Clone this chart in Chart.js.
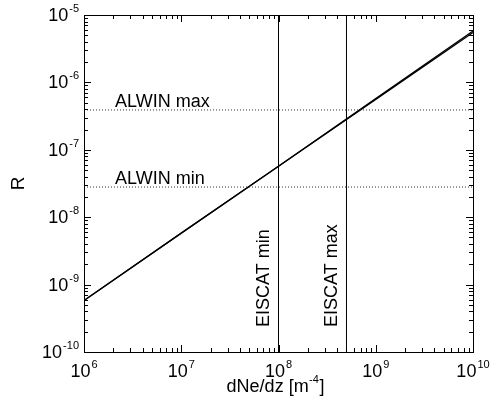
<!DOCTYPE html>
<html>
<head>
<meta charset="utf-8">
<script src="https://cdn.jsdelivr.net/npm/chart.js@4"></script>
<style>
  html, body { margin: 0; padding: 0; background: #fff; }
</style>
</head>
<body>
<canvas id="rChart" width="492" height="403"></canvas>
<script>
// R as a function of dNe/dz, with the ALWIN and EISCAT ranges
const density = [1e6, 1e7, 1e8, 1e9, 1e10];
const ratioA = [5.8e-10, 5.8e-9, 5.7e-8, 5.6e-7, 5.5e-6];
const ratioB = [5.8e-10, 5.8e-9, 5.7e-8, 5.75e-7, 5.8e-6];
const alwinLevels = [2.8e-8, 3.9e-7];
const alwinLabels = ['ALWIN min', 'ALWIN max'];
const eiscatLevels = [1e8, 5e8];
const eiscatLabels = ['EISCAT min', 'EISCAT max'];
const xDecades = [6, 7, 8, 9, 10];
const yDecades = [-10, -9, -8, -7, -6, -5];

const FONT = '"Liberation Sans", Arial, Helvetica, sans-serif';
const xMin = 10 ** xDecades[0], xMax = 10 ** xDecades[xDecades.length - 1];
const yMin = 10 ** yDecades[0], yMax = 10 ** yDecades[yDecades.length - 1];

// "10" with a raised exponent; align is 'center' or 'right'
function powerText(ctx, base, exp, x, y, align) {
    ctx.font = '18px ' + FONT;
    const wb = ctx.measureText(base).width;
    ctx.font = '11px ' + FONT;
    const ws = ctx.measureText(exp).width;
    const x0 = align === 'center' ? x - (wb + ws + 1) / 2 : x - wb - ws - 1;
    ctx.textAlign = 'left';
    ctx.textBaseline = 'alphabetic';
    ctx.font = '18px ' + FONT;
    ctx.fillText(base, x0, y);
    ctx.font = '11px ' + FONT;
    ctx.fillText(exp, x0 + wb + 1, y - 9);
}

const framePlugin = {
    id: 'frame',
    afterDraw(chart) {
        const { ctx, chartArea: a, scales } = chart;
        const sx = scales.x, sy = scales.y;
        ctx.save();
        ctx.strokeStyle = '#000';
        ctx.fillStyle = '#000';
        ctx.lineWidth = 1;
        ctx.strokeRect(Math.round(a.left) + 0.5, Math.round(a.top) + 0.5,
            Math.round(a.right - a.left), Math.round(a.bottom - a.top));

        // inward ticks on all four sides
        ctx.beginPath();
        xDecades.forEach(d => {
            for (let k = 1; k <= 9; k++) {
                const v = k * 10 ** d;
                if (v > xMax * 1.0001) break;
                const px = Math.round(sx.getPixelForValue(v)) + 0.5;
                const len = k === 1 ? 7 : 4;
                ctx.moveTo(px, a.bottom); ctx.lineTo(px, a.bottom - len);
                ctx.moveTo(px, a.top); ctx.lineTo(px, a.top + len);
            }
        });
        yDecades.forEach(d => {
            for (let k = 1; k <= 9; k++) {
                const v = k * 10 ** d;
                if (v > yMax * 1.0001) break;
                const py = Math.round(sy.getPixelForValue(v)) + 0.5;
                const len = k === 1 ? 7 : 4;
                ctx.moveTo(a.left, py); ctx.lineTo(a.left + len, py);
                ctx.moveTo(a.right, py); ctx.lineTo(a.right - len, py);
            }
        });
        ctx.stroke();

        // tick labels
        xDecades.forEach(d => {
            powerText(ctx, '10', String(d), sx.getPixelForValue(10 ** d), a.bottom + 25, 'center');
        });
        yDecades.forEach(d => {
            powerText(ctx, '10', String(d), a.left - 5, sy.getPixelForValue(10 ** d) + 6, 'right');
        });

        // axis titles
        ctx.font = '18px ' + FONT;
        const t1 = 'dNe/dz [m', t2 = ']';
        const w1 = ctx.measureText(t1).width, w2 = ctx.measureText(t2).width;
        ctx.font = '11px ' + FONT;
        const we = ctx.measureText('-4').width;
        const tx = (a.left + a.right) / 2 - 3 - (w1 + we + w2 + 1) / 2;
        ctx.textAlign = 'left';
        ctx.font = '18px ' + FONT;
        ctx.fillText(t1, tx, a.bottom + 40);
        ctx.fillText(t2, tx + w1 + we + 1, a.bottom + 40);
        ctx.font = '11px ' + FONT;
        ctx.fillText('-4', tx + w1 + 0.5, a.bottom + 31);

        ctx.save();
        ctx.translate(24, (a.top + a.bottom) / 2);
        ctx.rotate(-Math.PI / 2);
        ctx.textAlign = 'center';
        ctx.font = '19px ' + FONT;
        ctx.fillText('R', 0, 0);
        ctx.restore();

        // range labels
        ctx.font = '18px ' + FONT;
        ctx.textAlign = 'left';
        alwinLevels.forEach((lvl, i) => {
            ctx.fillText(alwinLabels[i], a.left + 31, sy.getPixelForValue(lvl) - 3);
        });
        eiscatLevels.forEach((lvl, i) => {
            ctx.save();
            ctx.translate(sx.getPixelForValue(lvl) - 9.5, a.bottom - 25);
            ctx.rotate(-Math.PI / 2);
            ctx.fillText(eiscatLabels[i], 0, 0);
            ctx.restore();
        });
        ctx.restore();
    }
};

const lineStyle = { showLine: true, pointRadius: 0, borderColor: '#000', fill: false };

new Chart(document.getElementById('rChart'), {
    type: 'scatter',
    data: {
        datasets: [
            ...alwinLevels.map((lvl, i) => ({
                ...lineStyle,
                label: alwinLabels[i],
                data: [{ x: xMin, y: lvl }, { x: xMax, y: lvl }],
                borderColor: '#333',
                borderWidth: 1,
                borderDash: [1, 2]
            })),
            ...eiscatLevels.map((lvl, i) => ({
                ...lineStyle,
                label: eiscatLabels[i],
                data: [{ x: lvl, y: yMin }, { x: lvl, y: yMax }],
                borderWidth: 1
            })),
            {
                ...lineStyle,
                label: 'R (a)',
                data: density.map((x, i) => ({ x, y: ratioA[i] })),
                borderWidth: 1.3
            },
            {
                ...lineStyle,
                label: 'R (b)',
                data: density.map((x, i) => ({ x, y: ratioB[i] })),
                borderWidth: 1.3
            }
        ]
    },
    options: {
        responsive: false,
        animation: false,
        events: [],
        layout: { padding: { left: 84, right: 19, top: 15, bottom: 51 } },
        plugins: { legend: { display: false }, tooltip: { enabled: false } },
        scales: {
            x: { type: 'logarithmic', min: xMin, max: xMax, display: false },
            y: { type: 'logarithmic', min: yMin, max: yMax, display: false }
        }
    },
    plugins: [framePlugin]
});
</script>
</body>
</html>
